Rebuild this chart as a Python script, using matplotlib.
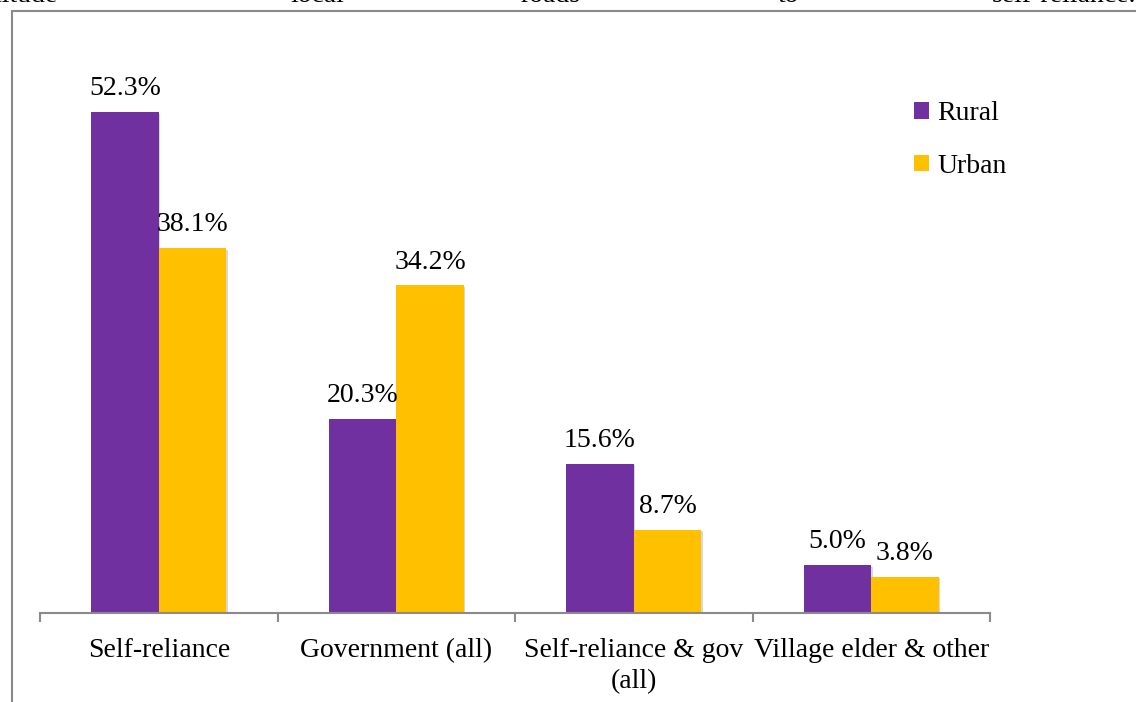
import matplotlib
matplotlib.use("Agg")
import matplotlib.pyplot as plt
import matplotlib.patheffects as pe
from matplotlib.patches import Rectangle, Patch
import numpy as np

plt.rcParams['font.family'] = ['Liberation Serif', 'DejaVu Serif']

categories = ["Self-reliance", "Government (all)", "Self-reliance & gov\n(all)", "Village elder & other"]
rural = [52.3, 20.3, 15.6, 5.0]
urban = [38.1, 34.2, 8.7, 3.8]
series_names = ["Rural", "Urban"]
colours = ["#7030A0", "#FFC000"]

# words of the paragraph line just above the chart frame
para_words = [("attitude", 57, 'right'), ("local", 290, 'left'), ("roads", 520, 'left'),
              ("to", 778, 'left'), ("self-reliance.", 1136, 'right')]

W, H = 1136, 702
fig = plt.figure(figsize=(W / 100, H / 100), dpi=100)
fig.patch.set_facecolor("white")

# outer frame, runs off the right and bottom edges
fig.patches.append(Rectangle((11.5 / W, -0.2), 1.5, 1.2 - 10.5 / H, transform=fig.transFigure,
                             fill=False, edgecolor="#8a8a8a", linewidth=1.5, zorder=0))
for word, xpx, ha in para_words:
    fig.text(xpx / W, 1 - 2 / H, word, ha=ha, va='baseline', fontsize=20, color="black")

ax = fig.add_axes([40 / W, 1 - 613 / H, 950 / W, 574.8 / H])
ax.set_facecolor("none")

x = np.arange(len(categories))
bw = 0.284
shadow = [pe.SimplePatchShadow(offset=(1.2, -1.2), shadow_rgbFace="#7f7f7f", alpha=0.3), pe.Normal()]
bars_r = ax.bar(x - bw / 2, rural, bw, color=colours[0], path_effects=shadow, zorder=2)
bars_u = ax.bar(x + bw / 2, urban, bw, color=colours[1], path_effects=shadow, zorder=2)

for bars, vals in ((bars_r, rural), (bars_u, urban)):
    for b, v in zip(bars, vals):
        ax.annotate(f"{v:.1f}%", (b.get_x() + b.get_width() / 2, v), xytext=(0, 12),
                    textcoords='offset points', ha='center', va='baseline', fontsize=20)

ax.set_xlim(-0.5, len(categories) - 0.5)
ax.set_ylim(0, 60)
for s in ("top", "left", "right"):
    ax.spines[s].set_visible(False)
ax.spines["bottom"].set_color("#8a8a8a")
ax.spines["bottom"].set_linewidth(1.5)
ax.set_yticks([])
ax.set_xticks(x)
ax.set_xticklabels(categories, fontsize=20, linespacing=1.3)
ax.tick_params(axis='x', which='major', length=0, pad=18)
ax.set_xticks(np.arange(-0.5, len(categories)), minor=True)
ax.tick_params(axis='x', which='minor', length=6.5, width=1.5, color="#8a8a8a", direction='out')

handles = [Patch(facecolor=c, label=n) for c, n in zip(colours, series_names)]
fig.legend(handles=handles, loc='upper left', bbox_to_anchor=(914 / W, 1 - 101 / H), frameon=False,
           fontsize=20, handlelength=0.55, handleheight=0.55, handletextpad=0.3, labelspacing=1.0,
           borderpad=0, borderaxespad=0)

fig.savefig("out.png", dpi=100, facecolor="white")
